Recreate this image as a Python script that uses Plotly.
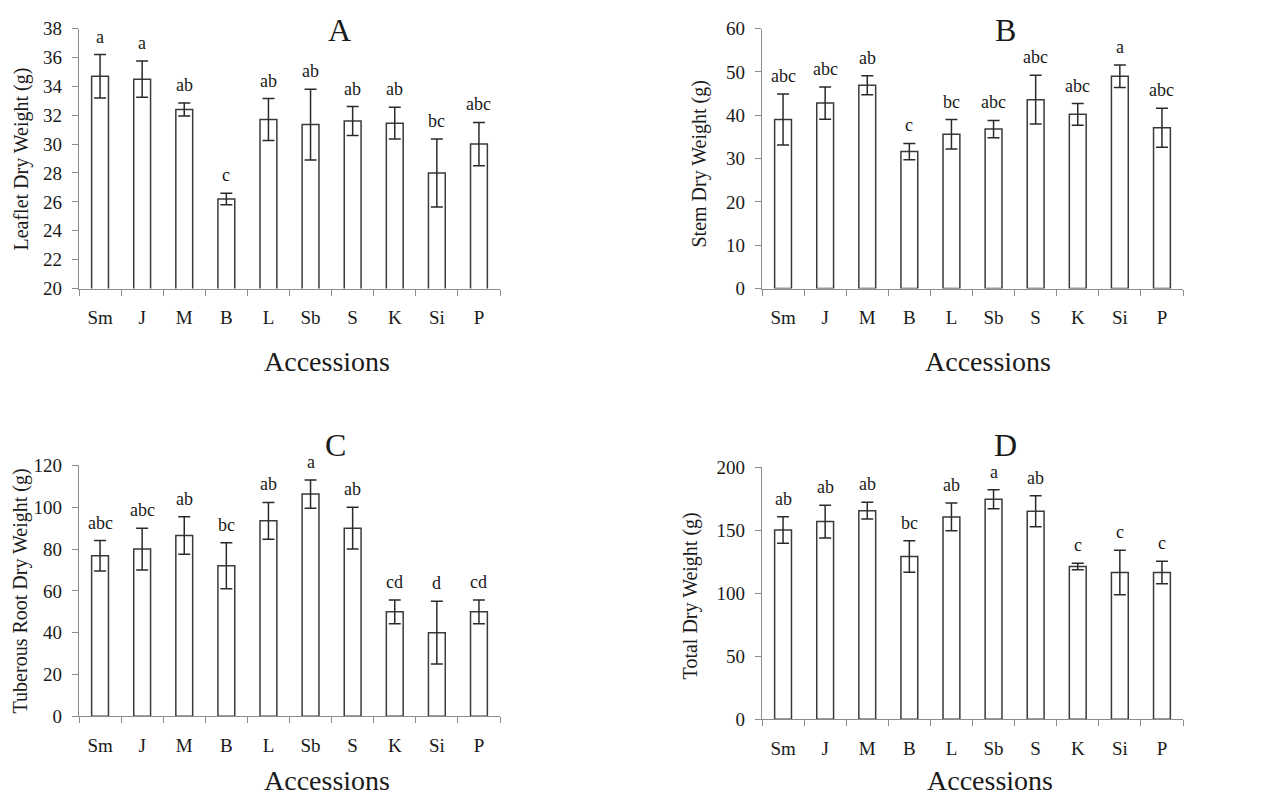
import plotly.graph_objects as go

W, H = 1272, 798

accessions = ["Sm", "J", "M", "B", "L", "Sb", "S", "K", "Si", "P"]

leaflet_mean = [34.7, 34.5, 32.4, 26.2, 31.7, 31.35, 31.6, 31.45, 28.0, 30.0]
leaflet_err = [1.5, 1.25, 0.45, 0.4, 1.45, 2.45, 1.0, 1.1, 2.35, 1.5]
leaflet_letters = ["a", "a", "ab", "c", "ab", "ab", "ab", "ab", "bc", "abc"]

stem_mean = [39.0, 42.8, 46.9, 31.6, 35.6, 36.8, 43.6, 40.2, 49.0, 37.1]
stem_err = [5.9, 3.7, 2.2, 1.9, 3.4, 2.0, 5.6, 2.5, 2.6, 4.5]
stem_letters = ["abc", "abc", "ab", "c", "bc", "abc", "abc", "abc", "a", "abc"]

root_mean = [76.8, 80.0, 86.5, 72.0, 93.5, 106.3, 90.0, 50.0, 40.0, 50.0]
root_err = [7.3, 10.0, 9.0, 11.0, 8.8, 6.8, 10.0, 5.7, 15.0, 5.7]
root_letters = ["abc", "abc", "ab", "bc", "ab", "a", "ab", "cd", "d", "cd"]

total_mean = [150.4, 157.0, 165.7, 129.3, 160.7, 174.7, 165.2, 121.4, 116.6, 116.6]
total_err = [10.5, 13.0, 6.7, 12.5, 11.0, 7.5, 12.3, 2.6, 17.6, 8.9]
total_letters = ["ab", "ab", "ab", "bc", "ab", "a", "ab", "c", "c", "c"]

FONT = "Liberation Serif"
AXIS_GREY = "#8c8c8c"
BAR_LINE = "#3a3a3a"


def px(x):
    return x / W


def page_y(y):
    # the captured picture is slightly squeezed vertically; undo it
    return min((y - 10.4) / 0.974, 791)


def py(y):
    return 1 - page_y(y) / H


panels = [
    dict(mean=leaflet_mean, err=leaflet_err, letters=leaflet_letters,
         rng=[20, 38], dtick=2, x0=79, x1=500, ytop=29, ybot=289,
         title="A", tx=339, ty=30, ytitle="Leaflet Dry Weight (g)", ytx=22, yty=160,
         accx=327, accy=362),
    dict(mean=stem_mean, err=stem_err, letters=stem_letters,
         rng=[0, 60], dtick=10, x0=762, x1=1183, ytop=29, ybot=289,
         title="B", tx=1005, ty=30, ytitle="Stem Dry Weight (g)", ytx=700, yty=165,
         accx=988, accy=362),
    dict(mean=root_mean, err=root_err, letters=root_letters,
         rng=[0, 120], dtick=20, x0=79, x1=500, ytop=466, ybot=717,
         title="C", tx=335, ty=446, ytitle="Tuberous Root Dry Weight (g)", ytx=20, yty=592,
         accx=327, accy=786),
    dict(mean=total_mean, err=total_err, letters=total_letters,
         rng=[0, 200], dtick=50, x0=762, x1=1183, ytop=468, ybot=720,
         title="D", tx=1005, ty=446, ytitle="Total Dry Weight (g)", ytx=690, yty=597,
         accx=990, accy=786),
]

fig = go.Figure()
annotations = []
layout_axes = {}

for i, p in enumerate(panels):
    n = "" if i == 0 else str(i + 1)
    xa, ya = "x" + n, "y" + n
    fig.add_trace(go.Bar(
        x=accessions, y=p["mean"], xaxis=xa, yaxis=ya, width=0.4,
        marker=dict(color="white", line=dict(color=BAR_LINE, width=1.5)),
        error_y=dict(type="data", array=p["err"], visible=True,
                     color="#2a2a2a", thickness=1.5, width=6),
        showlegend=False, hoverinfo="x+y",
    ))
    layout_axes["xaxis" + n] = dict(
        domain=[px(p["x0"]), px(p["x1"])], anchor=ya, type="category",
        showline=True, linecolor=AXIS_GREY, linewidth=1.2,
        ticks="outside", tickson="boundaries", ticklen=6, tickcolor=AXIS_GREY,
        tickfont=dict(family=FONT, size=19, color="#1a1a1a"),
        showgrid=False, zeroline=False, ticklabelstandoff=12,
    )
    layout_axes["yaxis" + n] = dict(
        domain=[py(p["ybot"]), py(p["ytop"])], anchor=xa,
        range=p["rng"], dtick=p["dtick"], tick0=p["rng"][0],
        showline=True, linecolor=AXIS_GREY, linewidth=1.2,
        ticks="outside", ticklen=6, tickcolor=AXIS_GREY,
        tickfont=dict(family=FONT, size=19, color="#1a1a1a"),
        showgrid=False, zeroline=False, ticklabelstandoff=6,
    )
    # significance letters above error bars
    for cat, m, e, lt in zip(accessions, p["mean"], p["err"], p["letters"]):
        annotations.append(dict(
            x=cat, y=m + e, xref=xa, yref=ya, text=lt, showarrow=False,
            yanchor="bottom", yshift=6,
            font=dict(family=FONT, size=18, color="#1a1a1a"),
        ))
    annotations.append(dict(
        x=px(p["tx"]), y=py(p["ty"]), xref="paper", yref="paper", text=p["title"],
        showarrow=False, xanchor="center", yanchor="middle",
        font=dict(family=FONT, size=32, color="#1a1a1a"),
    ))
    annotations.append(dict(
        x=px(p["ytx"]), y=py(p["yty"]), xref="paper", yref="paper", text=p["ytitle"],
        showarrow=False, xanchor="center", yanchor="middle", textangle=-90,
        font=dict(family=FONT, size=20, color="#1a1a1a"),
    ))
    annotations.append(dict(
        x=px(p["accx"]), y=py(p["accy"]), xref="paper", yref="paper", text="Accessions",
        showarrow=False, xanchor="center", yanchor="middle",
        font=dict(family=FONT, size=28, color="#1a1a1a"),
    ))

fig.update_layout(
    width=W, height=H, autosize=False,
    margin=dict(l=0, r=0, t=0, b=0),
    paper_bgcolor="white", plot_bgcolor="white",
    bargap=0.6, annotations=annotations,
    **layout_axes,
)

# pin the figure to the page's top-left corner (no default body margin)
pin_js = (
    "document.body.style.margin='0';"
    "var gd=document.getElementById('{plot_id}');"
    "gd.style.position='absolute';gd.style.left='0px';gd.style.top='0px';"
)
fig.write_html("out.html", post_script=pin_js, config={"displayModeBar": False})
